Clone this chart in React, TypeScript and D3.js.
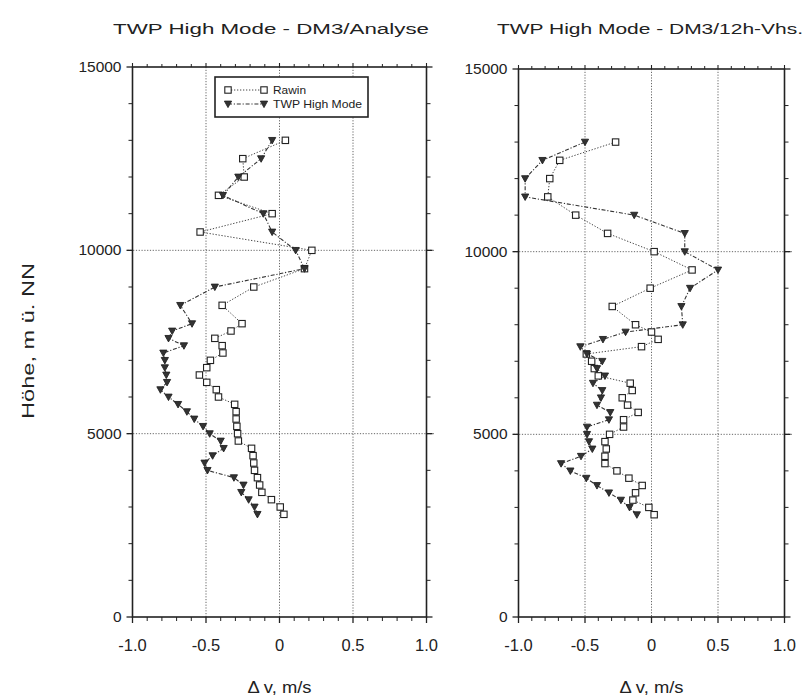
import React from "react";
import * as d3 from "d3";

// Heights (m) of the profile levels
const heights = [
  13000, 12500, 12000, 11500, 11000, 10500, 10000, 9500, 9000, 8500, 8000,
  7800, 7600, 7400, 7200, 7000, 6800, 6600, 6400, 6200, 6000, 5800, 5600,
  5400, 5200, 5000, 4800, 4600, 4400, 4200, 4000, 3800, 3600, 3400, 3200,
  3000, 2800,
];

// Left panel: DM3/Analyse
const rawinLeft = [
  0.04, -0.25, -0.24, -0.415, -0.05, -0.54, 0.22, 0.17, -0.175, -0.39, -0.255,
  -0.33, -0.44, -0.39, -0.385, -0.47, -0.495, -0.545, -0.495, -0.43, -0.415,
  -0.305, -0.295, -0.295, -0.29, -0.285, -0.28, -0.19, -0.18, -0.175, -0.17,
  -0.15, -0.135, -0.12, -0.055, 0.005, 0.03,
];
const twpLeft = [
  -0.05, -0.125, -0.28, -0.385, -0.11, -0.05, 0.11, 0.17, -0.44, -0.675, -0.595,
  -0.73, -0.755, -0.65, -0.79, -0.78, -0.78, -0.77, -0.765, -0.81, -0.755,
  -0.69, -0.63, -0.58, -0.52, -0.475, -0.4, -0.38, -0.455, -0.51, -0.49,
  -0.31, -0.245, -0.26, -0.21, -0.17, -0.15,
];

// Right panel: DM3/12h-Vhs.
const rawinRight = [
  -0.27, -0.69, -0.765, -0.78, -0.57, -0.33, 0.02, 0.305, -0.01, -0.295, -0.12,
  0.0, 0.05, -0.075, -0.49, -0.45, -0.43, -0.4, -0.16, -0.145, -0.22, -0.18,
  -0.1, -0.21, -0.21, -0.315, -0.35, -0.34, -0.35, -0.35, -0.26, -0.17, -0.07,
  -0.12, -0.14, -0.02, 0.02,
];
const twpRight = [
  -0.5, -0.82, -0.95, -0.95, -0.13, 0.25, 0.25, 0.5, 0.29, 0.225, 0.235,
  -0.195, -0.365, -0.535, -0.485, -0.37, -0.41, -0.35, -0.44, -0.37, -0.38,
  -0.41, -0.31, -0.32, -0.485, -0.485, -0.47, -0.445, -0.53, -0.68, -0.61,
  -0.49, -0.41, -0.32, -0.23, -0.165, -0.11,
];

const titles = ["TWP High Mode - DM3/Analyse", "TWP High Mode - DM3/12h-Vhs."];
const xTickValues = [-1.0, -0.5, 0, 0.5, 1.0];
const xTickLabels = ["-1.0", "-0.5", "0", "0.5", "1.0"];
const yTickValues = [0, 5000, 10000, 15000];
const yTickLabels = ["0", "5000", "10000", "15000"];
const xMinor = [-0.9, -0.8, -0.7, -0.6, -0.4, -0.3, -0.2, -0.1, 0.1, 0.2, 0.3, 0.4, 0.6, 0.7, 0.8, 0.9];
const yMinor = [1000, 2000, 3000, 4000, 6000, 7000, 8000, 9000, 11000, 12000, 13000, 14000];
const gridX = [-0.5, 0, 0.5];
const gridY = [5000, 10000];
const seriesNames = ["Rawin", "TWP High Mode"];
const xLabel = "\u0394 v, m/s";
const yLabel = "H\u00f6he, m \u00fc. NN";

const FONT = "'Liberation Sans', Arial, Helvetica, sans-serif";
const INK = "#222";

type PanelProps = {
  x0: number; x1: number; y0: number; y1: number;
  rawin: number[]; twp: number[]; title: string; titleX: number; titleLen: number; legend?: boolean;
};

function Square({ x, y }: { x: number; y: number }) {
  return <rect x={x - 3.2} y={y - 3.2} width={6.4} height={6.4} fill="#fff" stroke={INK} strokeWidth={1.1} />;
}
function Tri({ x, y }: { x: number; y: number }) {
  const s = 3.6;
  return (
    <path d={`M${x - s},${y - s * 0.8}L${x + s},${y - s * 0.8}L${x},${y + s}Z`} fill="#333" stroke={INK} strokeWidth={0.9} />
  );
}

function Panel({ x0, x1, y0, y1, rawin, twp, title, titleX, titleLen, legend }: PanelProps) {
  const xs = d3.scaleLinear().domain([-1, 1]).range([x0, x1]);
  const ys = d3.scaleLinear().domain([0, 15000]).range([y0, y1]);
  const line = d3.line<[number, number]>().x((d) => xs(d[0])).y((d) => ys(d[1]));
  const rawPts: [number, number][] = rawin.map((v, i) => [v, heights[i]]);
  const twpPts: [number, number][] = twp.map((v, i) => [v, heights[i]]);
  return (
    <g>
      <text x={titleX} y={34} fontFamily={FONT} fontSize={15.5} fill={INK} textLength={titleLen} lengthAdjust="spacingAndGlyphs">{title}</text>
      {/* grid */}
      {gridX.map((g) => (
        <line key={"gx" + g} x1={xs(g)} x2={xs(g)} y1={y1} y2={y0} stroke="#555" strokeWidth={0.9} strokeDasharray="1.2,1.6" />
      ))}
      {gridY.map((g) => (
        <line key={"gy" + g} x1={x0 - 5} x2={x1 + 8} y1={ys(g)} y2={ys(g)} stroke="#555" strokeWidth={0.9} strokeDasharray="1.2,1.6" />
      ))}
      {/* frame */}
      <rect x={x0} y={y1} width={x1 - x0} height={y0 - y1} fill="none" stroke={INK} strokeWidth={1.6} />
      {/* x ticks */}
      {xTickValues.map((t, i) => (
        <g key={"xt" + t}>
          <line x1={xs(t)} x2={xs(t)} y1={y0} y2={y0 + 6} stroke={INK} strokeWidth={1.3} />
          <line x1={xs(t)} x2={xs(t)} y1={y1} y2={y1 - 4} stroke={INK} strokeWidth={1.1} />
          <text x={xs(t)} y={y0 + 34} textAnchor="middle" fontFamily={FONT} fontSize={16.5} fill={INK}>{xTickLabels[i]}</text>
        </g>
      ))}
      {xMinor.map((t) => (
        <g key={"xm" + t}>
          <line x1={xs(t)} x2={xs(t)} y1={y0} y2={y0 + 4} stroke={INK} strokeWidth={1} />
          <line x1={xs(t)} x2={xs(t)} y1={y1} y2={y1 - 3} stroke={INK} strokeWidth={1} />
        </g>
      ))}
      {/* y ticks */}
      {yTickValues.map((t, i) => (
        <g key={"yt" + t}>
          <line x1={x0} x2={x0 - 6} y1={ys(t)} y2={ys(t)} stroke={INK} strokeWidth={1.3} />
          <line x1={x1} x2={x1 + 6} y1={ys(t)} y2={ys(t)} stroke={INK} strokeWidth={1.3} />
          <text x={x0 - 11} y={ys(t) + 5} textAnchor="end" fontFamily={FONT} fontSize={15.5} fill={INK}>{yTickLabels[i]}</text>
        </g>
      ))}
      {yMinor.map((t) => (
        <g key={"ym" + t}>
          <line x1={x0} x2={x0 - 4} y1={ys(t)} y2={ys(t)} stroke={INK} strokeWidth={1} />
          <line x1={x1} x2={x1 + 4} y1={ys(t)} y2={ys(t)} stroke={INK} strokeWidth={1} />
        </g>
      ))}
      {/* series */}
      <path d={line(rawPts) ?? ""} fill="none" stroke="#444" strokeWidth={1} strokeDasharray="1.3,1.7" />
      <path d={line(twpPts) ?? ""} fill="none" stroke="#333" strokeWidth={1.1} strokeDasharray="4,1.8,1.2,1.8" />
      {rawPts.map((d, i) => <Square key={"r" + i} x={xs(d[0])} y={ys(d[1])} />)}
      {twpPts.map((d, i) => <Tri key={"t" + i} x={xs(d[0])} y={ys(d[1])} />)}
      {/* x label */}
      <text x={(x0 + x1) / 2} y={y0 + 76} textAnchor="middle" fontFamily={FONT} fontSize={16} fill={INK} textLength={64} lengthAdjust="spacingAndGlyphs">{xLabel}</text>
      {legend && (
        <g>
          <rect x={215} y={77} width={153} height={40} fill="#fff" stroke={INK} strokeWidth={1.6} />
          <line x1={228} x2={264} y1={90} y2={90} stroke="#444" strokeWidth={1} strokeDasharray="1.3,1.7" />
          <Square x={228} y={90} />
          <Square x={264} y={90} />
          <text x={273} y={94} fontFamily={FONT} fontSize={11.5} fill={INK} textLength={33} lengthAdjust="spacingAndGlyphs">{seriesNames[0]}</text>
          <line x1={228} x2={264} y1={104} y2={104} stroke="#333" strokeWidth={1.1} strokeDasharray="4,1.8,1.2,1.8" />
          <Tri x={228} y={104} />
          <Tri x={264} y={104} />
          <text x={273} y={108} fontFamily={FONT} fontSize={11.5} fill={INK} textLength={89} lengthAdjust="spacingAndGlyphs">{seriesNames[1]}</text>
        </g>
      )}
    </g>
  );
}

export default function App() {
  return (
    <svg width={804} height={697} style={{ position: "absolute", left: 0, top: 0, background: "#fff" }}>
      <rect x={0} y={0} width={804} height={697} fill="#fff" />
      <Panel x0={132.5} x1={426.5} y0={617} y1={67} rawin={rawinLeft} twp={twpLeft} title={titles[0]} titleX={113} titleLen={316} legend />
      <Panel x0={518.5} x1={784.5} y0={617} y1={69} rawin={rawinRight} twp={twpRight} title={titles[1]} titleX={497} titleLen={306} />
      <text transform="translate(34,341) rotate(-90)" textAnchor="middle" fontFamily={FONT} fontSize={17} fill={INK} textLength={156} lengthAdjust="spacingAndGlyphs">{yLabel}</text>
    </svg>
  );
}
